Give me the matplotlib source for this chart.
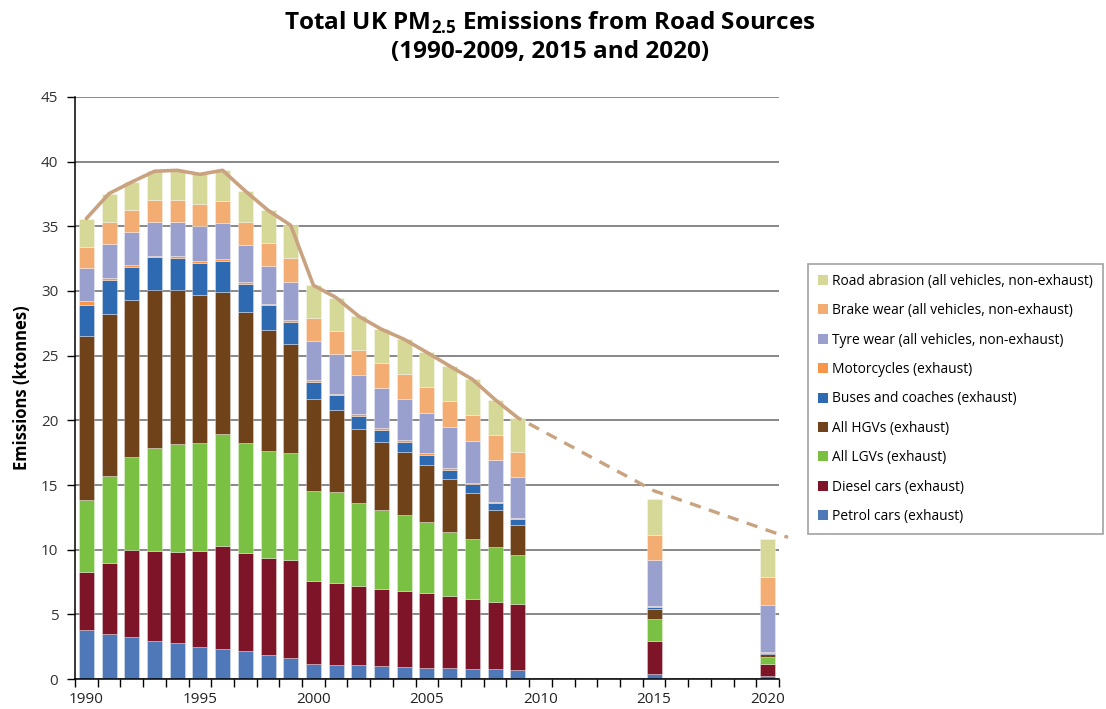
import numpy as np
import matplotlib.pyplot as plt
from matplotlib.patches import Patch

plt.rcParams['font.family'] = ['Open Sans', 'DejaVu Sans']
plt.rcParams['mathtext.fontset'] = 'custom'
plt.rcParams['mathtext.rm'] = 'Open Sans'
plt.rcParams['mathtext.bf'] = 'Open Sans:bold'

# ----- data (ktonnes) -----
years = [1990, 1991, 1992, 1993, 1994, 1995, 1996, 1997, 1998, 1999,
         2000, 2001, 2002, 2003, 2004, 2005, 2006, 2007, 2008, 2009, 2015, 2020]

petrol_cars = [3.79, 3.45, 3.22, 2.96, 2.75, 2.50, 2.31, 2.16, 1.88, 1.59,
               1.13, 1.08, 1.05, 0.97, 0.92, 0.87, 0.84, 0.80, 0.74, 0.67, 0.36, 0.25]
diesel_cars = [4.51, 5.51, 6.75, 6.93, 7.07, 7.39, 7.97, 7.61, 7.47, 7.63,
               6.42, 6.31, 6.11, 5.96, 5.88, 5.78, 5.57, 5.36, 5.21, 5.10, 2.55, 0.93]
lgvs = [5.54, 6.73, 7.17, 7.94, 8.38, 8.38, 8.69, 8.45, 8.30, 8.28,
        6.96, 7.04, 6.42, 6.16, 5.85, 5.51, 4.98, 4.69, 4.23, 3.79, 1.70, 0.54]
hgvs = [12.71, 12.53, 12.16, 12.25, 11.88, 11.43, 10.98, 10.18, 9.36, 8.43,
        7.17, 6.40, 5.78, 5.26, 4.87, 4.41, 4.07, 3.56, 2.91, 2.34, 0.80, 0.21]
buses = [2.40, 2.61, 2.53, 2.52, 2.47, 2.44, 2.35, 2.14, 1.88, 1.67,
         1.31, 1.10, 0.97, 0.90, 0.80, 0.75, 0.70, 0.66, 0.51, 0.47, 0.18, 0.07]
motorcycles = [0.25, 0.20, 0.18, 0.14, 0.17, 0.16, 0.15, 0.18, 0.13, 0.16,
               0.16, 0.13, 0.13, 0.18, 0.16, 0.13, 0.13, 0.11, 0.11, 0.10, 0.05, 0.06]
tyre_wear = [2.58, 2.61, 2.58, 2.60, 2.62, 2.73, 2.79, 2.81, 2.91, 2.94,
             2.96, 3.04, 3.07, 3.10, 3.17, 3.14, 3.19, 3.25, 3.20, 3.17, 3.56, 3.68]
brake_wear = [1.60, 1.70, 1.65, 1.67, 1.67, 1.70, 1.72, 1.78, 1.81, 1.85,
              1.83, 1.81, 1.91, 1.90, 1.93, 1.96, 1.99, 1.98, 1.95, 1.91, 1.93, 2.12]
road_abrasion = [2.22, 2.19, 2.19, 2.25, 2.32, 2.29, 2.37, 2.42, 2.50, 2.53,
                 2.50, 2.58, 2.60, 2.61, 2.68, 2.70, 2.73, 2.76, 2.74, 2.65, 2.81, 2.96]

# projected total (dashed trend after 2009)
proj_years = [2009, 2015, 2020.9]
proj_total = [20.2, 14.55, 10.95]

series = [
    ("Petrol cars (exhaust)", petrol_cars, "#4F78B8"),
    ("Diesel cars (exhaust)", diesel_cars, "#7D1427"),
    ("All LGVs (exhaust)", lgvs, "#7AC143"),
    ("All HGVs (exhaust)", hgvs, "#70421A"),
    ("Buses and coaches (exhaust)", buses, "#2E6AB1"),
    ("Motorcycles (exhaust)", motorcycles, "#F7964A"),
    ("Tyre wear (all vehicles, non-exhaust)", tyre_wear, "#9AA0CD"),
    ("Brake wear (all vehicles, non-exhaust)", brake_wear, "#F3AC72"),
    ("Road abrasion (all vehicles, non-exhaust)", road_abrasion, "#D6D898"),
]
LINE_COLOR = "#C9A27F"

fig = plt.figure(figsize=(11.06, 7.09), dpi=100)
ax = fig.add_axes([0.0678, 0.0423, 0.6365, 0.8209])

x = np.array(years)
bottom = np.zeros(len(years))
for name, vals, col in series:
    vals = np.array(vals)
    ax.bar(x, vals, width=0.66, bottom=bottom, color=col,
           edgecolor=(1, 1, 1, 0.45), linewidth=0.5, zorder=3)
    bottom += vals

# total line over 1990-2009, dashed projection afterwards
hist = x <= 2009
ax.plot(x[hist], bottom[hist], color=LINE_COLOR, lw=2.6, zorder=4,
        solid_joinstyle="round", solid_capstyle="round")
ax.plot(proj_years, proj_total, color=LINE_COLOR, lw=2.4, zorder=4,
        linestyle=(2.2, (3.4, 2.6)), clip_on=False)

ax.set_xlim(1989.5, 2020.5)
ax.set_ylim(0, 45)
ax.set_yticks(range(0, 46, 5))
ax.set_xticks([1990, 1995, 2000, 2005, 2010, 2015, 2020])
ax.set_xticks(np.arange(1989.5, 2021, 1), minor=True)
ax.tick_params(axis="x", which="major", length=0, labelsize=11, colors="#222222", pad=9)
ax.tick_params(axis="x", which="minor", length=6, width=1, color="black", direction="out")
ax.tick_params(axis="y", length=6, width=1, color="black", labelsize=11,
               labelcolor="#333333", pad=6)
ax.grid(axis="y", color="#7f7f7f", lw=1.3, zorder=0)
for s in ["top", "right"]:
    ax.spines[s].set_visible(False)
for s in ["left", "bottom"]:
    ax.spines[s].set_color("black")
    ax.spines[s].set_linewidth(1.1)
    ax.spines[s].set_zorder(5)

ax.set_ylabel("Emissions (ktonnes)", fontsize=12, fontweight="bold", labelpad=7)

fig.text(0.497, 0.968, "Total UK PM$_{\\mathbf{2.5}}$ Emissions from Road Sources",
         ha="center", va="center", fontsize=17.5, fontweight="bold")
fig.text(0.497, 0.926, "(1990-2009, 2015 and 2020)",
         ha="center", va="center", fontsize=17.5, fontweight="bold")

handles = [Patch(facecolor=col, edgecolor="none", label=name)
           for name, vals, col in series][::-1]
leg = fig.legend(handles=handles, loc="upper left",
                 bbox_to_anchor=(808 / 1106, 1 - 264 / 709),
                 frameon=True, fancybox=False, fontsize=9.9,
                 handlelength=0.75, handleheight=0.75, handletextpad=0.3,
                 labelspacing=1.05, borderpad=0.7, borderaxespad=0)
leg.get_frame().set_edgecolor("#8a8a8a")
leg.get_frame().set_linewidth(1.2)

fig.savefig("out.png", dpi=100)
